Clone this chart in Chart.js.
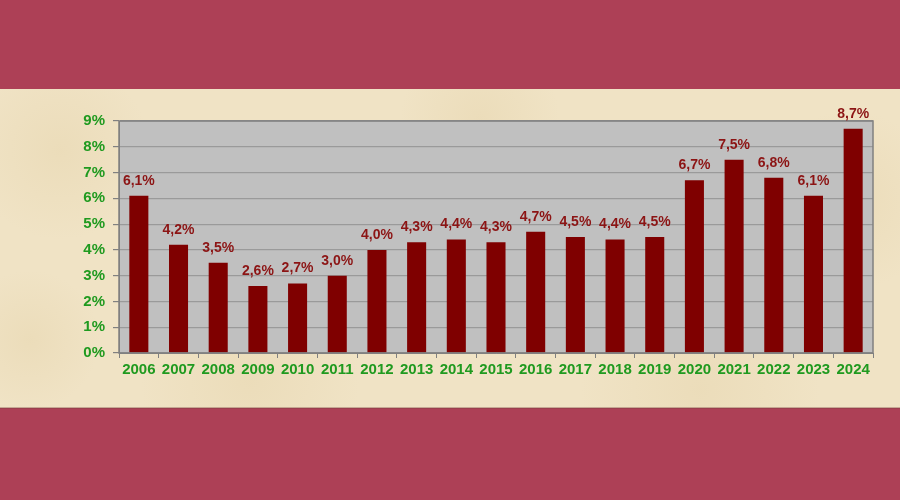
<!DOCTYPE html>
<html>
<head>
<meta charset="utf-8">
<script src="https://cdn.jsdelivr.net/npm/chart.js@4/dist/chart.umd.min.js"></script>
<style>
  html, body { margin: 0; padding: 0; background: #ad4056; }
  #wrap { width: 900px; height: 500px; position: relative; }
</style>
</head>
<body>
<div id="wrap"><canvas id="chart" width="900" height="500"></canvas></div>
<script>
// data
const years = ['2006','2007','2008','2009','2010','2011','2012','2013','2014','2015',
               '2016','2017','2018','2019','2020','2021','2022','2023','2024'];
const rates = [6.1, 4.2, 3.5, 2.6, 2.7, 3.0, 4.0, 4.3, 4.4, 4.3,
               4.7, 4.5, 4.4, 4.5, 6.7, 7.5, 6.8, 6.1, 8.7];
const yTicks = [0, 1, 2, 3, 4, 5, 6, 7, 8, 9];

const GREEN = '#1f9a1f';
const BAR = '#7f0000';
const LABEL = '#8c1414';
const FONT = '"Liberation Sans", Arial, sans-serif';

/* ------------------------------ background ------------------------------ */
const backdrop = {
  id: 'backdrop',
  beforeDraw(chart) {
    const { ctx, width, height } = chart;
    ctx.save();
    ctx.fillStyle = '#ad4056';
    ctx.fillRect(0, 0, width, height);
    // parchment band
    ctx.fillStyle = '#f0e3c5';
    ctx.fillRect(0, 89, width, 319);
    const blotches = [
      [60, 150, 90], [250, 380, 110], [480, 120, 80], [700, 390, 120],
      [850, 200, 90], [30, 340, 70], [600, 260, 60], [380, 240, 70]
    ];
    blotches.forEach(([x, y, r]) => {
      const g = ctx.createRadialGradient(x, y, 0, x, y, r);
      g.addColorStop(0, 'rgba(225,205,160,0.3)');
      g.addColorStop(1, 'rgba(225,205,160,0)');
      ctx.fillStyle = g;
      ctx.fillRect(0, 89, width, 319);
    });
    ctx.fillStyle = 'rgba(120,60,60,0.35)';
    ctx.fillRect(0, 407, width, 2);
    // plot area
    const a = chart.chartArea;
    ctx.fillStyle = '#c0c0c0';
    ctx.fillRect(a.left, a.top, a.right - a.left, a.bottom - a.top);
    ctx.restore();
  },
  afterDatasetsDraw(chart) {
    const { ctx } = chart;
    const a = chart.chartArea;
    ctx.save();
    ctx.strokeStyle = '#808080';
    ctx.lineWidth = 1.5;
    ctx.strokeRect(a.left, a.top, a.right - a.left, a.bottom - a.top);
    // value labels
    ctx.fillStyle = LABEL;
    ctx.font = 'bold 14px ' + FONT;
    ctx.textAlign = 'center';
    ctx.textBaseline = 'middle';
    chart.getDatasetMeta(0).data.forEach((bar, i) => {
      ctx.fillText(rates[i].toFixed(1).replace('.', ',') + '%', bar.x, bar.y - 15);
    });
    ctx.restore();
  }
};

/* --------------------------------- chart -------------------------------- */
new Chart(document.getElementById('chart'), {
  type: 'bar',
  data: {
    labels: years,
    datasets: [{
      data: rates,
      backgroundColor: BAR,
      borderWidth: 0,
      categoryPercentage: 1,
      barPercentage: 0.48
    }]
  },
  options: {
    responsive: false,
    animation: false,
    layout: { padding: { top: 121, right: 27, left: 0, bottom: 0 } },
    plugins: { legend: { display: false }, tooltip: { enabled: false } },
    scales: {
      x: {
        grid: { drawOnChartArea: false, color: '#808080', tickLength: 5, offset: true },
        border: { color: '#808080' },
        ticks: { color: GREEN, font: { family: FONT, size: 15, weight: 'bold' }, padding: 3, maxRotation: 0, autoSkip: false },
        afterFit(scale) { scale.height = 147; }
      },
      y: {
        min: 0,
        max: 9,
        afterBuildTicks(scale) { scale.ticks = yTicks.map(v => ({ value: v })); },
        grid: { color: '#9a9a9a', tickColor: '#808080', tickLength: 6, lineWidth: 1.2 },
        border: { color: '#808080' },
        ticks: {
          color: GREEN,
          font: { family: FONT, size: 15, weight: 'bold' },
          padding: 8,
          callback: v => v + '%'
        },
        afterFit(scale) { scale.width = 119; }
      }
    }
  },
  plugins: [backdrop]
});
</script>
</body>
</html>
